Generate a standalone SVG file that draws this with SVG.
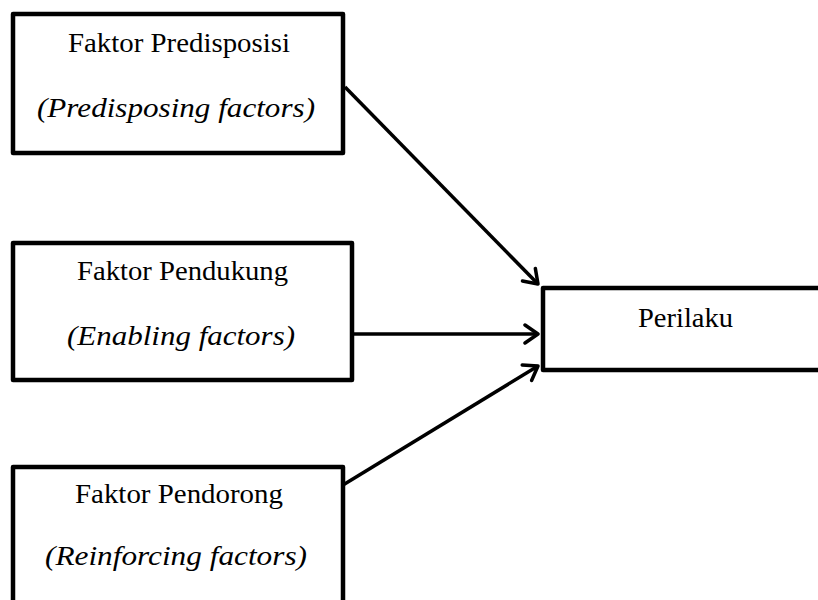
<svg xmlns="http://www.w3.org/2000/svg" width="818" height="600" viewBox="0 0 818 600">
<style>
.box{fill:#fff;stroke:#000;stroke-width:4.5;stroke-linejoin:round}
.t{font-family:"Liberation Serif","Times New Roman",serif;font-size:28px;fill:#000;text-anchor:middle}
.i{font-style:italic}
.c{stroke:#000;stroke-width:3.5;fill:none}
</style>
<defs>
<marker id="arr" markerUnits="userSpaceOnUse" markerWidth="30" markerHeight="30" refX="15" refY="15" orient="auto" viewBox="0 0 30 30">
<path d="M2,6 L15,15 L2,24" fill="none" stroke="#000" stroke-width="3.5" stroke-linecap="round" stroke-linejoin="round"/>
</marker>
</defs>
<rect width="818" height="600" fill="#fff"/>
<g id="node-predisposisi">
<rect class="box" x="13" y="14" width="330" height="139"/>
<text class="t" x="179" y="52" textLength="222" lengthAdjust="spacingAndGlyphs">Faktor Predisposisi</text>
<text class="t i" x="176" y="117" textLength="278" lengthAdjust="spacingAndGlyphs">(Predisposing factors)</text>
</g>
<g id="node-pendukung">
<rect class="box" x="13" y="243" width="339" height="137"/>
<text class="t" x="182.5" y="280" textLength="211" lengthAdjust="spacingAndGlyphs">Faktor Pendukung</text>
<text class="t i" x="181" y="345" textLength="228" lengthAdjust="spacingAndGlyphs">(Enabling factors)</text>
</g>
<g id="node-pendorong">
<rect class="box" x="13" y="467" width="330" height="150"/>
<text class="t" x="179" y="503" textLength="208" lengthAdjust="spacingAndGlyphs">Faktor Pendorong</text>
<text class="t i" x="176" y="565" textLength="262" lengthAdjust="spacingAndGlyphs">(Reinforcing factors)</text>
</g>
<g id="node-perilaku">
<rect class="box" x="543" y="288" width="300" height="82"/>
<text class="t" x="685.5" y="327" textLength="95" lengthAdjust="spacingAndGlyphs">Perilaku</text>
</g>
<g id="connectors">
<line class="c" x1="345" y1="87" x2="538" y2="284" marker-end="url(#arr)"/>
<line class="c" x1="353" y1="334" x2="538" y2="334" marker-end="url(#arr)"/>
<line class="c" x1="343" y1="485" x2="538" y2="366" marker-end="url(#arr)"/>
</g>
</svg>
